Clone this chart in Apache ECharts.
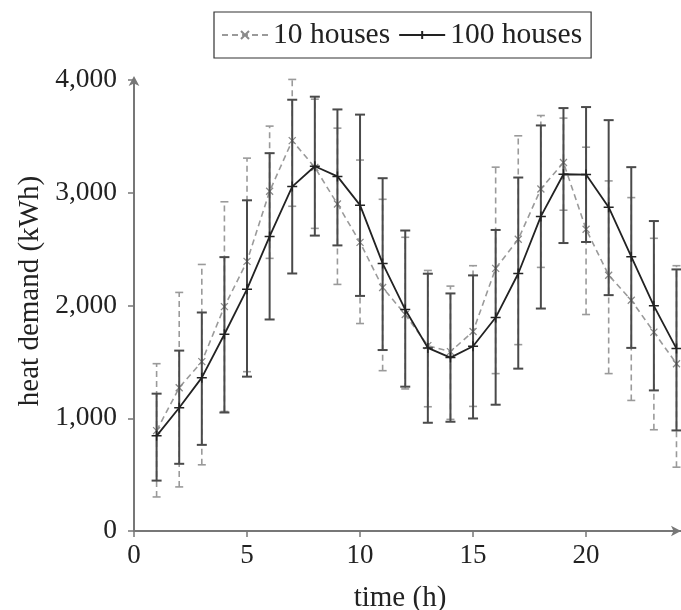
<!DOCTYPE html>
<html>
<head>
<meta charset="utf-8">
<script src="https://cdn.jsdelivr.net/npm/echarts@6/dist/echarts.min.js"></script>
<style>
html,body{margin:0;padding:0;background:#fff;}
#chart{width:681px;height:610px;}
</style>
</head>
<body>
<div id="chart"></div>
<script>
// hours
const hours = [1,2,3,4,5,6,7,8,9,10,11,12,13,14,15,16,17,18,19,20,21,22,23,24];
// 100 houses: mean, lower and upper error bounds (kWh)
const mean100 = [844,1093,1360,1745,2145,2613,3055,3235,3145,2890,2373,1964,1624,1538,1638,1893,2284,2790,3164,3161,2872,2433,1997,1618];
const low100  = [447,596,764,1051,1369,1876,2284,2620,2533,2085,1605,1280,960,969,998,1120,1440,1973,2554,2563,2092,1624,1247,892];
const high100 = [1218,1600,1938,2429,2933,3351,3825,3852,3739,3693,3129,2665,2282,2107,2267,2670,3135,3597,3751,3760,3644,3227,2749,2320];
// 10 houses: mean, lower and upper error bounds (kWh)
const mean10 = [890,1271,1502,1990,2391,3013,3462,3225,2900,2560,2160,1920,1644,1591,1769,2329,2587,3034,3268,2676,2269,2047,1764,1484];
const low10  = [302,391,587,1060,1413,2418,2880,2684,2187,1840,1422,1260,1102,990,1105,1396,1653,2338,2845,1920,1396,1158,898,566];
const high10 = [1484,2116,2364,2920,3307,3591,4005,3830,3573,3290,2942,2605,2311,2172,2353,3227,3505,3685,3662,3404,3105,2957,2596,2353];
// axis ticks
const yTicks = [0,1000,2000,3000,4000];
const xTicks = [0,5,10,15,20];

const serif = '"Liberation Serif", "DejaVu Serif", serif';
const chart = echarts.init(document.getElementById('chart'), null, {renderer:'canvas'});

function errRender(color, width, dash, hw){
  return function(params, api){
    const x = api.value(0), lo = api.value(1), hi = api.value(2);
    const a = api.coord([x, lo]), b = api.coord([x, hi]);
    const st = {stroke:color, lineWidth:width, fill:null};
    const vs = Object.assign({}, st, dash ? {lineDash:dash} : {});
    return {type:'group', children:[
      {type:'line', shape:{x1:a[0],y1:a[1],x2:b[0],y2:b[1]}, style:vs},
      {type:'line', shape:{x1:a[0]-hw,y1:a[1],x2:a[0]+hw,y2:a[1]}, style:st},
      {type:'line', shape:{x1:b[0]-hw,y1:b[1],x2:b[0]+hw,y2:b[1]}, style:st}
    ]};
  };
}

const fmt = v => v.toLocaleString('en-US');

chart.setOption({
  animation:false,
  backgroundColor:'#fff',
  grid:{left:134, right:0, top:80, bottom:79, containLabel:false},
  legend:{
    left:214, top:12,
    data:['10 houses','100 houses'],
    itemWidth:46, itemHeight:10, itemGap:8,
    padding:[8,9,8,7],
    borderColor:'#333', borderWidth:1.2,
    textStyle:{fontFamily:serif, fontSize:29.5, color:'#222'}
  },
  xAxis:{
    type:'value', min:0, max:24.2, interval:5,
    axisLine:{show:true, symbol:['none','arrow'], symbolSize:[8,10], lineStyle:{color:'#777', width:2}},
    axisTick:{show:true, length:6, lineStyle:{color:'#777', width:1.5}},
    axisLabel:{fontFamily:serif, fontSize:27, color:'#222', margin:11, showMaxLabel:false,
      formatter:v => xTicks.includes(v) ? String(v) : ''},
    splitLine:{show:false}
  },
  yAxis:{
    type:'value', min:0, max:4000, interval:1000,
    axisLine:{show:true, symbol:['none','arrow'], symbolSize:[8,10], symbolOffset:[0,4], lineStyle:{color:'#777', width:2}},
    axisTick:{show:true, length:6, lineStyle:{color:'#777', width:1.5}},
    axisLabel:{fontFamily:serif, fontSize:27.5, color:'#222', margin:17,
      formatter:v => yTicks.includes(v) ? fmt(v) : ''},
    splitLine:{show:false}
  },
  graphic:[
    {type:'text', x:400, y:598, style:{text:'time (h)', fontFamily:serif, fontSize:29, fill:'#222', textAlign:'center', textVerticalAlign:'middle'}},
    {type:'text', rotation:Math.PI/2, x:30, y:291, style:{text:'heat demand (kWh)', fontFamily:serif, fontSize:29, fill:'#222', textAlign:'center', textVerticalAlign:'middle'}}
  ],
  series:[
    {
      type:'custom', name:'err10', silent:true, z:2,
      renderItem:errRender('#9a9a9a', 1.6, [6,4], 4),
      data:hours.map((h,i)=>[h, low10[i], high10[i]])
    },
    {
      type:'line', name:'10 houses', z:3,
      data:hours.map((h,i)=>[h, mean10[i]]),
      lineStyle:{color:'#9a9a9a', width:1.6, type:[6,4]},
      symbol:'path://M0,0L10,10M10,0L0,10', symbolSize:7,
      itemStyle:{color:'rgba(0,0,0,0)', borderColor:'#8a8a8a', borderWidth:1.3},
      showSymbol:true
    },
    {
      type:'custom', name:'err100', silent:true, z:4,
      renderItem:errRender('#4a4a4a', 2, null, 5),
      data:hours.map((h,i)=>[h, low100[i], high100[i]])
    },
    {
      type:'line', name:'100 houses', z:5,
      data:hours.map((h,i)=>[h, mean100[i]]),
      lineStyle:{color:'#222', width:1.8},
      symbol:'path://M0,5L10,5M5,0L5,10', symbolSize:10,
      itemStyle:{color:'rgba(0,0,0,0)', borderColor:'#222', borderWidth:1.5},
      showSymbol:true
    }
  ]
});
</script>
</body>
</html>
